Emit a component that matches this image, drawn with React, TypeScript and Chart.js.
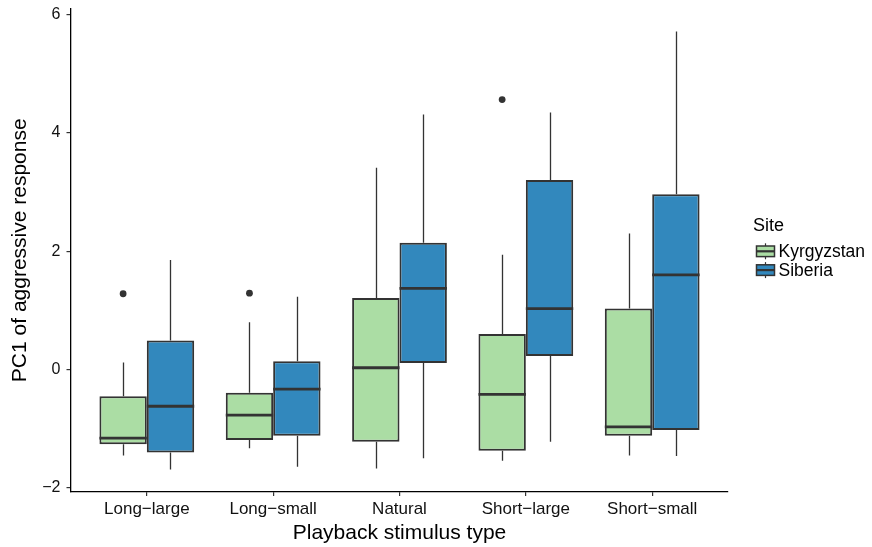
import React, { useEffect, useRef } from 'react';
import { Chart, registerables } from 'chart.js';

Chart.register(...registerables);

// ---- data ----
const CATEGORIES = ['Long\u2212large', 'Long\u2212small', 'Natural', 'Short\u2212large', 'Short\u2212small'];
const SITES = ['Kyrgyzstan', 'Siberia'];
const Y_TICKS = [-2, 0, 2, 4, 6];

// Kyrgyzstan
const K_MIN = [-1.45, -1.33, -1.67, -1.54, -1.45];
const K_Q1 = [-1.26, -1.19, -1.22, -1.37, -1.12];
const K_MED = [-1.16, -0.77, 0.03, -0.42, -0.97];
const K_Q3 = [-0.45, -0.39, 1.21, 0.6, 1.03];
const K_MAX = [0.12, 0.8, 3.41, 1.94, 2.3];
const K_OUT = [[1.28], [1.29], [], [4.56], []];

// Siberia
const S_MIN = [-1.69, -1.64, -1.5, -1.22, -1.46];
const S_Q1 = [-1.4, -1.12, 0.11, 0.23, -1.02];
const S_MED = [-0.62, -0.33, 1.37, 1.03, 1.6];
const S_Q3 = [0.49, 0.14, 2.14, 3.2, 2.96];
const S_MAX = [1.85, 1.23, 4.31, 4.34, 5.71];
const S_OUT: number[][] = [[], [], [], [], []];

const STATS = [
  { min: K_MIN, q1: K_Q1, med: K_MED, q3: K_Q3, max: K_MAX, out: K_OUT },
  { min: S_MIN, q1: S_Q1, med: S_MED, q3: S_Q3, max: S_MAX, out: S_OUT },
];

// ---- styles ----
const FILLS = ['#ABDDA4', '#3288BD'];
const LINE = '#333333';
const DODGE = 0.75;
const FONT = '"Liberation Sans", Arial, Helvetica, sans-serif';

const boxParts = {
  id: 'boxParts',
  beforeDatasetsDraw(chart: any) {
    const ctx = chart.ctx;
    const y = chart.scales.y;
    ctx.save();
    ctx.strokeStyle = LINE;
    ctx.lineWidth = 1.3;
    STATS.forEach((s, d) => {
      const meta = chart.getDatasetMeta(d);
      meta.data.forEach((el: any, i: number) => {
        const x = Math.round(el.x) + 0.5;
        ctx.beginPath();
        ctx.moveTo(x, y.getPixelForValue(s.max[i]));
        ctx.lineTo(x, y.getPixelForValue(s.q3[i]));
        ctx.moveTo(x, y.getPixelForValue(s.q1[i]));
        ctx.lineTo(x, y.getPixelForValue(s.min[i]));
        ctx.stroke();
      });
    });
    ctx.restore();
  },
  afterDatasetsDraw(chart: any) {
    const ctx = chart.ctx;
    const y = chart.scales.y;
    ctx.save();
    ctx.strokeStyle = LINE;
    ctx.lineWidth = 2.8;
    STATS.forEach((s, d) => {
      const meta = chart.getDatasetMeta(d);
      meta.data.forEach((el: any, i: number) => {
        const py = y.getPixelForValue(s.med[i]);
        ctx.beginPath();
        ctx.moveTo(el.x - el.width / 2, py);
        ctx.lineTo(el.x + el.width / 2, py);
        ctx.stroke();
      });
    });
    ctx.restore();
  },
  afterDraw(chart: any) {
    const ctx = chart.ctx;
    ctx.save();
    ctx.fillStyle = '#000';
    ctx.textBaseline = 'alphabetic';
    ctx.textAlign = 'left';
    ctx.font = `18px ${FONT}`;
    ctx.fillText('Site', 753, 231);
    ctx.font = `17.5px ${FONT}`;
    SITES.forEach((name, k) => {
      const cy = 251.3 + k * 18.8;
      const cx = 765.5;
      ctx.strokeStyle = LINE;
      ctx.lineWidth = 1.2;
      ctx.beginPath();
      ctx.moveTo(cx, cy - 8);
      ctx.lineTo(cx, cy + 8);
      ctx.stroke();
      ctx.fillStyle = FILLS[k];
      ctx.fillRect(756.5, cy - 5.3, 18, 10.6);
      ctx.lineWidth = 1.5;
      ctx.strokeRect(756.5, cy - 5.3, 18, 10.6);
      ctx.lineWidth = 2.2;
      ctx.beginPath();
      ctx.moveTo(756.5, cy);
      ctx.lineTo(774.5, cy);
      ctx.stroke();
      ctx.fillStyle = '#000';
      ctx.fillText(name, 778.5, cy + 6);
    });
    ctx.restore();
  },
};

export default function App() {
  const ref = useRef<HTMLCanvasElement | null>(null);

  useEffect(() => {
    if (!ref.current) return;
    Chart.defaults.font.family = FONT;

    const barSets = STATS.map((s, d) => ({
      type: 'bar' as const,
      label: SITES[d],
      data: CATEGORIES.map((_, i) => ({ x: i + 1, y: [s.q1[i], s.q3[i]] })),
      backgroundColor: FILLS[d],
      borderColor: LINE,
      borderWidth: 2,
      borderSkipped: false,
      categoryPercentage: DODGE,
      barPercentage: 1,
      grouped: true,
    }));

    const outSets = STATS.map((s, d) => ({
      type: 'scatter' as const,
      label: SITES[d] + ' outliers',
      data: s.out.flatMap((vals, i) =>
        vals.map((v) => ({ x: i + 1 + (d - 0.5) * (DODGE / 2), y: v }))
      ),
      backgroundColor: LINE,
      borderColor: LINE,
      pointRadius: 3.4,
      pointBorderWidth: 0,
    }));

    const chart = new Chart(ref.current, {
      type: 'bar',
      data: { datasets: [...barSets, ...outSets] as any },
      options: {
        animation: false,
        responsive: false,
        devicePixelRatio: 1,
        layout: { padding: { left: 0, right: 144, top: 9, bottom: 0 } },
        plugins: { legend: { display: false }, tooltip: { enabled: false } },
        scales: {
          x: {
            type: 'linear',
            offset: false,
            min: 0.4,
            max: 5.6,
            afterBuildTicks: (s: any) => {
              s.ticks = CATEGORIES.map((_, i) => ({ value: i + 1 }));
            },
            afterFit: (s: any) => {
              s.height = 55.5;
              s.paddingLeft = 0;
              s.paddingRight = 0;
            },
            ticks: {
              callback: (v: any) => CATEGORIES[Math.round(Number(v)) - 1] ?? '',
              font: { size: 17 },
              color: '#111',
              padding: 3,
              autoSkip: false,
              maxRotation: 0,
            },
            grid: { display: true, offset: false, drawOnChartArea: false, drawTicks: true, tickLength: 4.5, color: '#333', lineWidth: 1.2 },
            border: { display: true, color: '#000', width: 1.3 },
            title: { display: true, text: 'Playback stimulus type', font: { size: 21 }, color: '#000', padding: { top: 0, bottom: 1 } },
          },
          y: {
            type: 'linear',
            min: -2.06,
            max: 6.09,
            afterBuildTicks: (s: any) => {
              s.ticks = Y_TICKS.map((v) => ({ value: v }));
            },
            afterFit: (s: any) => {
              s.width = 71;
              s.paddingTop = 0;
              s.paddingBottom = 0;
            },
            ticks: {
              callback: (v: any) => (Number(v) < 0 ? '\u2212' + Math.abs(Number(v)) : String(v)),
              font: { size: 16 },
              color: '#111',
              padding: 6,
            },
            grid: { display: true, drawOnChartArea: false, drawTicks: true, tickLength: 4.5, color: '#333', lineWidth: 1.2 },
            border: { display: true, color: '#000', width: 1.3 },
            title: { display: true, text: 'PC1 of aggressive response', font: { size: 21 }, color: '#000', padding: { top: 8, bottom: 0 } },
          },
        },
      },
      plugins: [boxParts],
    } as any);

    return () => chart.destroy();
  }, []);

  return (
    <div style={{ position: 'absolute', left: 0, top: 0, width: 872, height: 547, background: '#fff' }}>
      <canvas ref={ref} width={872} height={547} style={{ display: 'block' }} />
    </div>
  );
}
